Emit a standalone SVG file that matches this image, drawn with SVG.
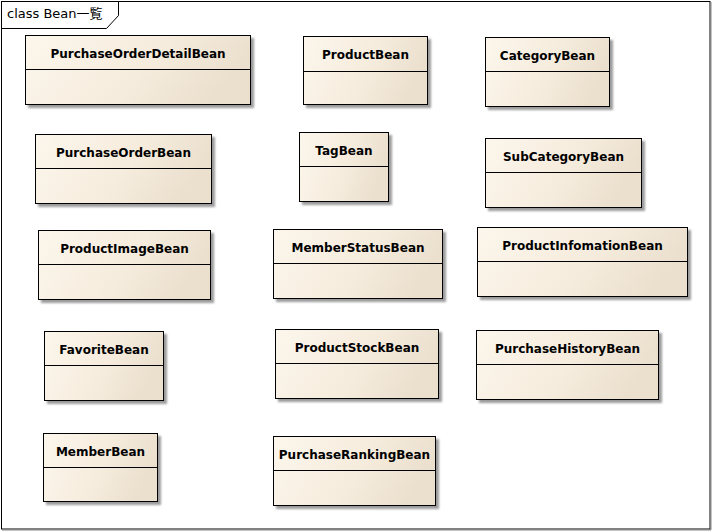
<svg xmlns="http://www.w3.org/2000/svg" width="712" height="531" viewBox="0 0 712 531">
<defs>
<linearGradient id="fillg" x1="0" y1="0" x2="1" y2="0.25">
<stop offset="0" stop-color="#fcf6ec"/>
<stop offset="0.6" stop-color="#f6ecdd"/>
<stop offset="1" stop-color="#ebe0ce"/>
</linearGradient>
<filter id="sh" x="-10%" y="-10%" width="130%" height="140%">
<feDropShadow dx="3" dy="3" stdDeviation="0.8" flood-color="#7a7a7a" flood-opacity="0.75"/>
</filter>
</defs>
<style>
.box{fill:url(#fillg);stroke:#000;stroke-width:1;filter:url(#sh)}
.div{stroke:#000;stroke-width:1}
.name{font-family:"DejaVu Sans",Verdana,sans-serif;font-weight:bold;font-size:12px;fill:#000;text-anchor:middle}
.frame{fill:none;stroke:#000;stroke-width:1}
.flabel{font-family:"DejaVu Sans","Noto Sans CJK JP",sans-serif;font-size:13px;fill:#000}
</style>
<rect x="0" y="0" width="712" height="531" fill="#fff"/>
<g id="frame">
<rect class="frame" x="1.5" y="1.5" width="708.5" height="527.5"/>
<line x1="2" y1="530" x2="711" y2="530" stroke="#888" stroke-width="1"/>
<line x1="711" y1="2" x2="711" y2="530" stroke="#888" stroke-width="1"/>
<polyline class="frame" points="1.5,28.5 106.5,28.5 118.5,15.5 118.5,1.5"/>
<text class="flabel" x="7" y="18">class Bean一覧</text>
</g>
<g id="connectors"></g>
<g id="PurchaseOrderDetailBean">
<rect class="box" x="25.5" y="35.5" width="225" height="69"/>
<line class="div" x1="25.5" y1="69.5" x2="250.5" y2="69.5"/>
<text class="name" x="138" y="57.5">PurchaseOrderDetailBean</text>
</g>
<g id="ProductBean">
<rect class="box" x="303.5" y="36.5" width="124" height="68"/>
<line class="div" x1="303.5" y1="71.5" x2="427.5" y2="71.5"/>
<text class="name" x="365.5" y="58.5">ProductBean</text>
</g>
<g id="CategoryBean">
<rect class="box" x="485.5" y="37.5" width="124" height="69"/>
<line class="div" x1="485.5" y1="71.5" x2="609.5" y2="71.5"/>
<text class="name" x="547.5" y="59.5">CategoryBean</text>
</g>
<g id="PurchaseOrderBean">
<rect class="box" x="35.5" y="134.5" width="176" height="69"/>
<line class="div" x1="35.5" y1="168.5" x2="211.5" y2="168.5"/>
<text class="name" x="123.5" y="156.5">PurchaseOrderBean</text>
</g>
<g id="TagBean">
<rect class="box" x="299.5" y="132.5" width="89" height="69"/>
<line class="div" x1="299.5" y1="166.5" x2="388.5" y2="166.5"/>
<text class="name" x="344" y="154.5">TagBean</text>
</g>
<g id="SubCategoryBean">
<rect class="box" x="485.5" y="138.5" width="156" height="69"/>
<line class="div" x1="485.5" y1="172.5" x2="641.5" y2="172.5"/>
<text class="name" x="563.5" y="160.5">SubCategoryBean</text>
</g>
<g id="ProductImageBean">
<rect class="box" x="38.5" y="230.5" width="172" height="69"/>
<line class="div" x1="38.5" y1="264.5" x2="210.5" y2="264.5"/>
<text class="name" x="124.5" y="252.5">ProductImageBean</text>
</g>
<g id="MemberStatusBean">
<rect class="box" x="273.5" y="229.5" width="169" height="69"/>
<line class="div" x1="273.5" y1="263.5" x2="442.5" y2="263.5"/>
<text class="name" x="358" y="251.5">MemberStatusBean</text>
</g>
<g id="ProductInfomationBean">
<rect class="box" x="477.5" y="227.5" width="210" height="69"/>
<line class="div" x1="477.5" y1="261.5" x2="687.5" y2="261.5"/>
<text class="name" x="582.5" y="249.5">ProductInfomationBean</text>
</g>
<g id="FavoriteBean">
<rect class="box" x="44.5" y="331.5" width="119" height="69"/>
<line class="div" x1="44.5" y1="365.5" x2="163.5" y2="365.5"/>
<text class="name" x="104" y="353.5">FavoriteBean</text>
</g>
<g id="ProductStockBean">
<rect class="box" x="275.5" y="329.5" width="163" height="69"/>
<line class="div" x1="275.5" y1="363.5" x2="438.5" y2="363.5"/>
<text class="name" x="357" y="351.5">ProductStockBean</text>
</g>
<g id="PurchaseHistoryBean">
<rect class="box" x="476.5" y="330.5" width="182" height="69"/>
<line class="div" x1="476.5" y1="364.5" x2="658.5" y2="364.5"/>
<text class="name" x="567.5" y="352.5">PurchaseHistoryBean</text>
</g>
<g id="MemberBean">
<rect class="box" x="43.5" y="433.5" width="114" height="68"/>
<line class="div" x1="43.5" y1="467.5" x2="157.5" y2="467.5"/>
<text class="name" x="100.5" y="455.5">MemberBean</text>
</g>
<g id="PurchaseRankingBean">
<rect class="box" x="273.5" y="436.5" width="162" height="69"/>
<line class="div" x1="273.5" y1="470.5" x2="435.5" y2="470.5"/>
<text class="name" x="354.5" y="458.5">PurchaseRankingBean</text>
</g>
</svg>
